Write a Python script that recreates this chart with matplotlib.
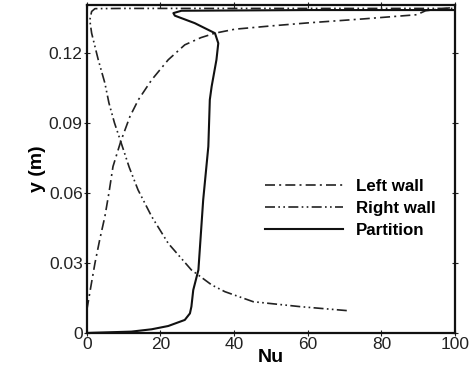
import matplotlib
matplotlib.use("Agg")
import matplotlib.pyplot as plt

plt.rcParams['font.family'] = ['Liberation Sans', 'DejaVu Sans']

# Left wall (dash-dot)
left_nu = [0, 1.1, 2.2, 3.5, 4.9, 6.0, 7.1, 9.2, 11.7, 14.0, 17.6, 22.1, 26.6, 31.0, 34.8, 40.2, 50.0, 60.0, 75.0, 89.6, 92.0, 100]
left_y = [0.0099, 0.02, 0.0299, 0.04, 0.0499, 0.06, 0.0713, 0.082, 0.0927, 0.0999, 0.1084, 0.117, 0.1234, 0.1265, 0.1284, 0.1301, 0.1315, 0.1328, 0.1345, 0.1363, 0.138, 0.1395]

# Right wall (dash-dot-dot)
right_nu = [70.6, 57.9, 45.2, 37.5, 33.9, 28.4, 22.1, 17.6, 13.9, 11.5, 9.2, 7.5, 6.0, 4.9, 3.1, 1.3, 0.8, 1.3, 2.2, 10, 30, 60, 100]
right_y = [0.0096, 0.0113, 0.0134, 0.0177, 0.0206, 0.027, 0.0384, 0.0499, 0.0613, 0.071, 0.082, 0.09, 0.0985, 0.107, 0.117, 0.1284, 0.134, 0.1377, 0.1389, 0.139, 0.139, 0.139, 0.139]

# Partition (solid)
part_nu = [0, 1.6, 12.1, 17.6, 22.1, 26.6, 28.0, 28.4, 28.9, 30.3, 31.6, 33.0, 33.4, 33.9, 35.2, 35.7, 34.8, 29.3, 23.9, 23.5, 25.7, 60, 100]
part_y = [0, 0.0001, 0.0006, 0.0016, 0.003, 0.0056, 0.0084, 0.0113, 0.0184, 0.027, 0.057, 0.0799, 0.0999, 0.1056, 0.117, 0.1241, 0.1284, 0.1327, 0.1359, 0.137, 0.138, 0.1383, 0.1383]

xticks = [0, 20, 40, 60, 80, 100]
yticks = [0, 0.03, 0.06, 0.09, 0.12]
ytick_labels = ['0', '0.03', '0.06', '0.09', '0.12']

fig = plt.figure(figsize=(4.72, 3.67), dpi=100)
ax = fig.add_axes([0.184, 0.0926, 0.78, 0.894])

ax.plot(left_nu, left_y, color='#222222', lw=1.2, linestyle=(0, (6, 2.5, 1.2, 2.5)), label='Left wall')
ax.plot(right_nu, right_y, color='#222222', lw=1.2, linestyle=(0, (6, 2, 1, 2, 1, 2)), label='Right wall')
ax.plot(part_nu, part_y, color='#111111', lw=1.5, linestyle='-', label='Partition')

ax.set_xlim(0, 100)
ax.set_ylim(0, 0.1405)
ax.set_xticks(xticks)
ax.set_xticklabels([str(t) for t in xticks])
ax.set_yticks(yticks)
ax.set_yticklabels(ytick_labels)
ax.tick_params(axis='both', labelsize=12.5, direction='inout', length=4, width=0.8, colors='#222222', pad=1)
ax.tick_params(axis='y', right=True)
ax.tick_params(axis='x', top=True)
for s in ax.spines.values():
    s.set_linewidth(1.6)
    s.set_color('#111111')

ax.set_xlabel('Nu', fontsize=14, fontweight='bold', labelpad=-2)
ax.set_ylabel('y (m)', fontsize=14, fontweight='bold', labelpad=2)

leg = ax.legend(loc='upper left', bbox_to_anchor=(0.465, 0.49), frameon=False,
                prop={'weight': 'bold', 'size': 12.2}, handlelength=4.6,
                handletextpad=0.8, labelspacing=0.4, borderaxespad=0)

fig.savefig('out.png', dpi=100)
